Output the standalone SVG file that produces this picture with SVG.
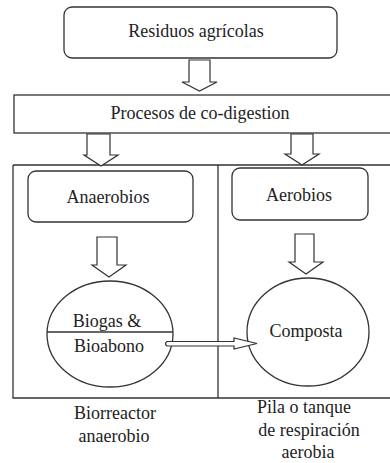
<svg xmlns="http://www.w3.org/2000/svg" width="390" height="463" viewBox="0 0 390 463">
<style>
.box{fill:#fff;stroke:#333;stroke-width:1.3}
.ln{fill:none;stroke:#333;stroke-width:1.3}
.arr{fill:#fff;stroke:#333;stroke-width:1.2;stroke-linejoin:miter}
text{font-family:"Liberation Serif","Times New Roman",serif;font-size:18px;fill:#222;text-anchor:middle}
</style>
<rect width="390" height="463" fill="#fff"/>
<g id="frame">
<path class="ln" d="M13,165 H390 M13,165 V398 H390 M218,165 V398"/>
</g>
<g id="residuos">
<rect class="box" x="64" y="7" width="273" height="51" rx="8"/>
<text x="196" y="37">Residuos agrícolas</text>
</g>
<g id="procesos">
<rect class="box" x="14" y="95" width="380" height="38"/>
<text x="200" y="119">Procesos de co-digestion</text>
</g>
<g id="anaerobios">
<rect class="box" x="28" y="171" width="165" height="51" rx="8"/>
<text x="108" y="203">Anaerobios</text>
</g>
<g id="aerobios">
<rect class="box" x="232" y="168" width="136" height="52" rx="8"/>
<text x="299" y="201">Aerobios</text>
</g>
<g id="biorreactor">
<ellipse class="box" cx="110" cy="334" rx="63" ry="53"/>
<line class="ln" x1="47" y1="332" x2="173" y2="332"/>
<text x="107" y="327">Biogas &amp;</text>
<text x="109" y="352">Bioabono</text>
</g>
<g id="composta">
<ellipse class="box" cx="308" cy="332" rx="61" ry="54"/>
<text x="306" y="337">Composta</text>
</g>
<g id="label-biorreactor">
<text x="115" y="419">Biorreactor</text>
<text x="114" y="442">anaerobio</text>
</g>
<g id="label-pila">
<text x="304" y="413">Pila o tanque</text>
<text x="309" y="436">de respiración</text>
<text x="308" y="458">aerobia</text>
</g>
<g id="connectors">
<path class="arr" d="M189,60 H210 V82 H217 L199.5,91 L182,82 H189 Z"/>
<path class="arr" d="M87,134 H110 V155 H118 L101,166 L84,155 H87 Z"/>
<path class="arr" d="M291,134 H313 V154 H319 L302,165 L285,154 H291 Z"/>
<path class="arr" d="M97,237 H117 V265 H126 L109,277 L92,265 H97 Z"/>
<path class="arr" d="M295,234 H314 V262 H323 L306,274 L289,262 H295 Z"/>
<path class="arr" d="M167,341.5 H234 V338 L257,343.5 L234,349 V346 H167 Q164,343.75 167,341.5 Z"/>
</g>
</svg>
